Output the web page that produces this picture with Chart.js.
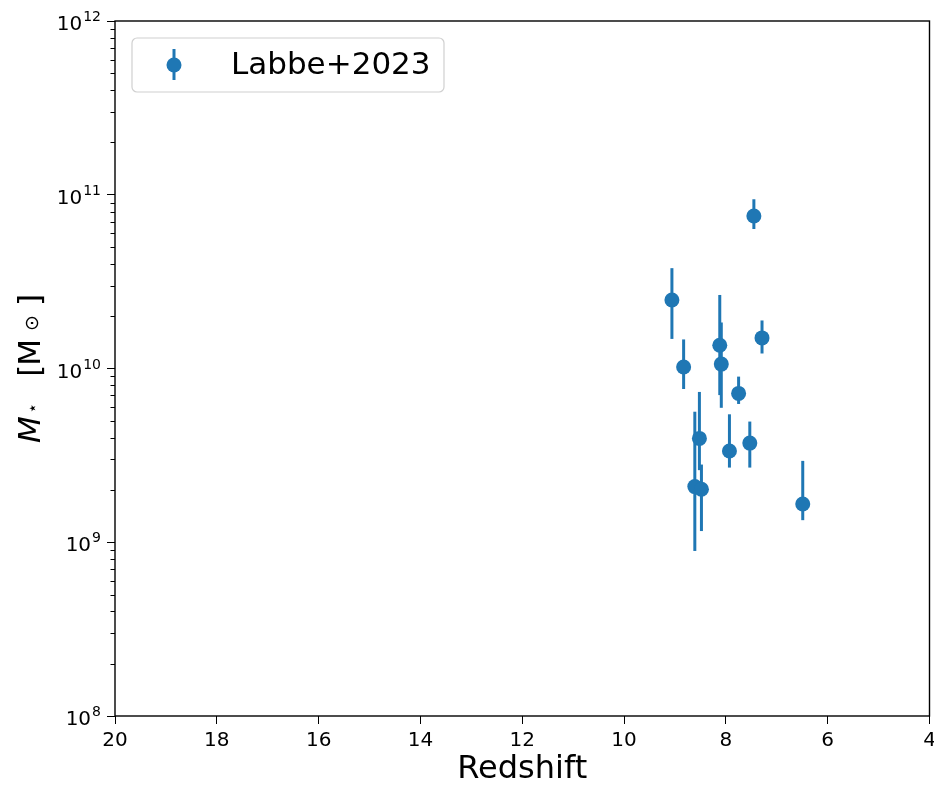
<!DOCTYPE html>
<html>
<head>
<meta charset="utf-8">
<script src="https://cdn.jsdelivr.net/npm/chart.js@4.4.1/dist/chart.umd.min.js"></script>
<style>
  html, body { margin: 0; padding: 0; background: #fff; overflow: hidden; }
  #wrap { width: 937px; height: 789px; position: relative; }
</style>
</head>
<body>
<div id="wrap"><canvas id="chart"></canvas></div>
<script>
// Labbe+2023 massive candidates: redshift vs stellar mass with asymmetric errors
const redshift    = [7.45, 9.06, 8.83, 8.12, 8.09, 7.29, 7.75, 8.52, 7.93, 7.53, 8.61, 8.48, 6.49]
const stellarMass = [7.55e10, 2.48e10, 1.02e10, 1.36e10, 1.06e10, 1.50e10, 7.19e9, 3.96e9, 3.35e9, 3.72e9, 2.09e9, 2.02e9, 1.66e9]
const massLow     = [6.35e10, 1.48e10, 7.62e9, 7.03e9, 5.94e9, 1.22e10, 6.25e9, 2.6e9, 2.69e9, 2.69e9, 8.91e8, 1.16e9, 1.34e9]
const massHigh    = [9.42e10, 3.78e10, 1.47e10, 2.65e10, 1.84e10, 1.89e10, 8.98e9, 7.33e9, 5.45e9, 4.95e9, 5.64e9, 2.8e9, 2.94e9]

const xTicks = [20, 18, 16, 14, 12, 10, 8, 6, 4]
const decades = [8, 9, 10, 11, 12]

const blue = '#1f77b4'
const font = '"DejaVu Sans", sans-serif'

const yTicks = []
decades.forEach(d => {
  for (let k = 1; k <= 9; k++) {
    if (d === 12 && k > 1) break
    yTicks.push({ value: k * Math.pow(10, d), major: k === 1 })
  }
})

const isMajor = v => Math.abs(Math.log10(v) - Math.round(Math.log10(v))) < 1e-9

const errorBars = {
  id: 'errorBars',
  beforeDatasetsDraw(chart) {
    const { ctx, scales: { x, y } } = chart
    ctx.save()
    ctx.strokeStyle = blue
    ctx.lineWidth = 3
    redshift.forEach((z, i) => {
      const px = x.getPixelForValue(z)
      ctx.beginPath()
      ctx.moveTo(px, y.getPixelForValue(massLow[i]))
      ctx.lineTo(px, y.getPixelForValue(massHigh[i]))
      ctx.stroke()
    })
    ctx.restore()
  }
}

const frame = {
  id: 'frame',
  afterDraw(chart) {
    const { ctx, chartArea: a, scales: { y } } = chart
    ctx.save()
    // minor ticks on the log axis
    ctx.strokeStyle = '#000'
    ctx.lineWidth = 1
    yTicks.filter(t => !t.major).forEach(t => {
      const py = Math.round(y.getPixelForValue(t.value)) + 0.5
      ctx.beginPath()
      ctx.moveTo(a.left - 4.5, py)
      ctx.lineTo(a.left, py)
      ctx.stroke()
    })
    // decade labels 10^n
    ctx.fillStyle = '#000'
    ctx.textBaseline = 'alphabetic'
    decades.forEach(d => {
      const py = y.getPixelForValue(Math.pow(10, d))
      const exp = String(d)
      ctx.font = '14px ' + font
      const ew = ctx.measureText(exp).width
      const right = a.left - 14
      ctx.textAlign = 'left'
      ctx.fillText(exp, right - ew, py)
      ctx.font = '20px ' + font
      ctx.textAlign = 'right'
      ctx.fillText('10', right - ew - 1, py + 9)
    })
    ctx.textAlign = 'left'
    // box around the plot
    ctx.lineWidth = 1.4
    ctx.strokeRect(a.left, a.top, a.right - a.left, a.bottom - a.top)

    // legend
    const lx = a.left + 17, ly = a.top + 17, lw = 312, lh = 54
    ctx.beginPath()
    ctx.roundRect(lx, ly, lw, lh, 5)
    ctx.fillStyle = 'rgba(255,255,255,0.8)'
    ctx.fill()
    ctx.strokeStyle = '#d0d0d0'
    ctx.lineWidth = 1.2
    ctx.stroke()
    const mx = lx + 42, my = ly + lh / 2
    ctx.strokeStyle = blue
    ctx.lineWidth = 3
    ctx.beginPath()
    ctx.moveTo(mx, my - 16)
    ctx.lineTo(mx, my + 15)
    ctx.stroke()
    ctx.fillStyle = blue
    ctx.beginPath()
    ctx.arc(mx, my, 7.5, 0, Math.PI * 2)
    ctx.fill()
    ctx.fillStyle = '#000'
    ctx.font = '31px ' + font
    ctx.textBaseline = 'middle'
    ctx.fillText(chart.data.datasets[0].label, lx + 99, my + 1)

    // y axis title: M_star [M_sun]
    ctx.translate(40, (a.top + a.bottom) / 2)
    ctx.rotate(-Math.PI / 2)
    const parts = [
      { t: 'M', f: 'italic 31px ' + font, dy: 0, gap: 0 },
      { t: '⋆', f: '17px ' + font, dy: -2, gap: 3 },
      { t: '[', f: '31px ' + font, dy: 0, gap: 26 },
      { t: 'M', f: '31px ' + font, dy: 0, gap: -1 },
      { t: '⊙', f: '19px ' + font, dy: -2, gap: 8 },
      { t: ']', f: '31px ' + font, dy: 0, gap: 9 }
    ]
    let total = 0
    parts.forEach(p => { ctx.font = p.f; p.w = ctx.measureText(p.t).width; total += p.w + p.gap })
    let cx = -total / 2
    ctx.textBaseline = 'alphabetic'
    parts.forEach(p => {
      cx += p.gap
      ctx.font = p.f
      ctx.fillText(p.t, cx, p.dy)
      cx += p.w
    })
    ctx.restore()
  }
}

new Chart(document.getElementById('chart'), {
  type: 'scatter',
  data: {
    datasets: [{
      label: 'Labbe+2023',
      data: redshift.map((z, i) => ({ x: z, y: stellarMass[i] })),
      backgroundColor: blue,
      borderColor: blue,
      pointRadius: 7.5,
      pointHoverRadius: 7.5,
      borderWidth: 0
    }]
  },
  options: {
    responsive: true,
    maintainAspectRatio: false,
    animation: false,
    layout: { padding: { top: 21, right: 0, left: 0, bottom: 0 } },
    plugins: {
      legend: { display: false },
      tooltip: { enabled: false }
    },
    scales: {
      x: {
        type: 'linear',
        min: 4,
        max: 20,
        reverse: true,
        afterBuildTicks: s => { s.ticks = xTicks.map(v => ({ value: v })) },
        afterFit: s => { s.height = 73; s.paddingLeft = 0; s.paddingRight = 0 },
        ticks: { color: '#000', font: { family: font, size: 20 }, padding: 5 },
        grid: { drawOnChartArea: false, tickLength: 8, tickColor: '#000', tickWidth: 1 },
        border: { display: false },
        title: {
          display: true,
          text: 'Redshift',
          color: '#000',
          font: { family: font, size: 32 },
          padding: { top: 0, bottom: 0 }
        }
      },
      y: {
        type: 'logarithmic',
        min: 1e8,
        max: 1e12,
        afterBuildTicks: s => { s.ticks = yTicks.map(t => ({ value: t.value, major: t.major })) },
        afterFit: s => { s.width = 115 },
        ticks: { display: false, autoSkip: false },
        grid: {
          drawOnChartArea: false,
          tickLength: 8,
          tickWidth: 1,
          tickColor: c => isMajor(c.tick.value) ? '#000' : 'rgba(0,0,0,0)'
        },
        border: { display: false }
      }
    }
  },
  plugins: [errorBars, frame]
})
</script>
</body>
</html>
